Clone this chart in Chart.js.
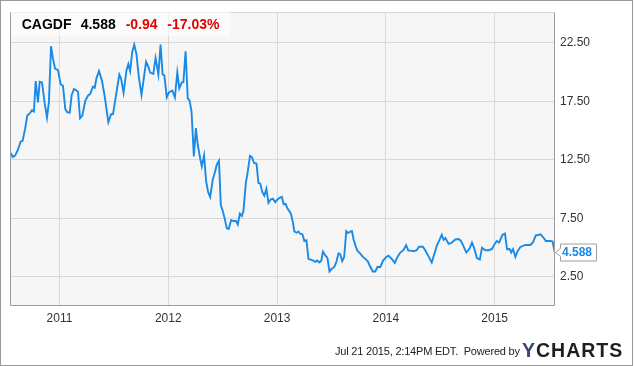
<!DOCTYPE html>
<html>
<head>
<meta charset="utf-8">
<title>CAGDF</title>
<script src="https://cdn.jsdelivr.net/npm/chart.js@4.4.0/dist/chart.umd.min.js"></script>
<style>
    html, body { margin: 0; padding: 0; background: #fff; }
    #wrap { position: relative; width: 635px; height: 366px; overflow: hidden;
            font-family: "Liberation Sans", Arial, sans-serif; }
    #chart { position: absolute; left: 0; top: 0; }
    #frame { position: absolute; left: 0; top: 0; width: 633px; height: 366px;
             box-sizing: border-box; border: 1px solid #9a9a9a; pointer-events: none; }
    #head { position: absolute; left: 11px; top: 11px; width: 219px; height: 25px;
            background: rgba(255, 255, 255, 0.6); }
    .h { position: absolute; top: 6px; font-weight: bold; font-size: 14px;
         line-height: 14px; white-space: nowrap; color: #000; }
    .red { color: #e50000; }
    #stamp { position: absolute; left: 335px; top: 346px; font-size: 11px; line-height: 11px;
             letter-spacing: -0.2px; color: #222; white-space: nowrap; }
    #logo { position: absolute; left: 522px; top: 340px; font-size: 19.5px; line-height: 20px;
            font-weight: bold; letter-spacing: 1px; color: #1e1e1e; white-space: nowrap; }
    #logo span { color: #34466c; }
</style>
</head>
<body>
<div id="wrap">
    <canvas id="chart" width="635" height="366"></canvas>
    <div id="head">
        <span class="h" style="left:10.7px">CAGDF</span>
        <span class="h" style="left:69.7px">4.588</span>
        <span class="h red" style="left:114.7px">-0.94</span>
        <span class="h red" style="left:156.3px">-17.03%</span>
    </div>
    <div id="stamp">Jul 21 2015, 2:14PM EDT.&nbsp; Powered by</div>
    <div id="logo"><span>Y</span>CHARTS</div>
    <div id="frame"></div>
</div>
<script>
// CAGDF weekly-ish closes
// dates are decimal years (2011.0 = Jan 1 2011)
const years = [
    2010.551, 2010.572, 2010.593, 2010.618, 2010.643, 2010.661, 2010.685, 2010.704, 2010.726, 2010.747,
    2010.765, 2010.781, 2010.802, 2010.818, 2010.839, 2010.864, 2010.885, 2010.903, 2010.922, 2010.940,
    2010.959, 2010.986, 2011.011, 2011.032, 2011.053, 2011.072, 2011.094, 2011.112, 2011.133, 2011.152,
    2011.170, 2011.189, 2011.210, 2011.237, 2011.262, 2011.283, 2011.308, 2011.324, 2011.339, 2011.363,
    2011.391, 2011.416, 2011.449, 2011.474, 2011.492, 2011.550, 2011.566, 2011.589, 2011.616, 2011.633,
    2011.649, 2011.669, 2011.687, 2011.707, 2011.730, 2011.754, 2011.796, 2011.817, 2011.833, 2011.863,
    2011.883, 2011.909, 2011.929, 2011.948, 2011.964, 2011.986, 2012.006, 2012.037, 2012.061, 2012.083,
    2012.101, 2012.124, 2012.139, 2012.159, 2012.179, 2012.196, 2012.214, 2012.235, 2012.254, 2012.271,
    2012.293, 2012.308, 2012.329, 2012.348, 2012.366, 2012.385, 2012.409, 2012.431, 2012.446, 2012.466,
    2012.483, 2012.501, 2012.520, 2012.538, 2012.555, 2012.578, 2012.599, 2012.624, 2012.639, 2012.658,
    2012.676, 2012.691, 2012.713, 2012.731, 2012.751, 2012.769, 2012.788, 2012.811, 2012.829, 2012.846,
    2012.865, 2012.883, 2012.902, 2012.921, 2012.941, 2012.961, 2012.983, 2013.004, 2013.024, 2013.044,
    2013.061, 2013.079, 2013.096, 2013.116, 2013.128, 2013.145, 2013.159, 2013.180, 2013.197, 2013.213,
    2013.234, 2013.251, 2013.270, 2013.289, 2013.309, 2013.332, 2013.351, 2013.369, 2013.387, 2013.406,
    2013.422, 2013.443, 2013.463, 2013.482, 2013.502, 2013.525, 2013.544, 2013.565, 2013.581, 2013.599,
    2013.617, 2013.636, 2013.654, 2013.673, 2013.688, 2013.703, 2013.723, 2013.740, 2013.765, 2013.789,
    2013.811, 2013.834, 2013.859, 2013.880, 2013.903, 2013.924, 2013.949, 2013.973, 2014.004, 2014.025,
    2014.056, 2014.082, 2014.102, 2014.133, 2014.163, 2014.186, 2014.206, 2014.229, 2014.255, 2014.283,
    2014.305, 2014.341, 2014.363, 2014.390, 2014.422, 2014.445, 2014.468, 2014.491, 2014.514, 2014.531,
    2014.548, 2014.577, 2014.602, 2014.639, 2014.669, 2014.689, 2014.709, 2014.740, 2014.770, 2014.792,
    2014.813, 2014.836, 2014.864, 2014.884, 2014.915, 2014.945, 2014.976, 2015.000, 2015.020, 2015.041,
    2015.071, 2015.095, 2015.114, 2015.138, 2015.152, 2015.169, 2015.191, 2015.212, 2015.237, 2015.283,
    2015.329, 2015.352, 2015.379, 2015.400, 2015.423, 2015.445, 2015.471, 2015.517, 2015.533, 2015.553
];

const prices = [
    13.08, 12.74, 12.88, 13.37, 14.07, 14.13, 15.21, 16.29, 16.48, 16.74,
    16.63, 19.24, 17.42, 19.18, 19.12, 17.33, 16.12, 17.48, 22.22, 21.16,
    20.31, 20.18, 18.95, 18.84, 16.86, 16.57, 16.54, 18.05, 18.56, 18.47,
    18.33, 16.06, 16.29, 17.54, 17.99, 18.16, 18.76, 18.67, 19.46, 20.09,
    19.24, 17.90, 15.72, 16.40, 16.41, 19.80, 19.46, 18.24, 20.16, 20.69,
    20.09, 21.73, 22.36, 21.56, 19.52, 18.05, 20.88, 20.46, 19.97, 19.86,
    21.22, 19.80, 22.36, 19.80, 19.72, 17.86, 18.26, 18.43, 17.84, 19.97,
    18.61, 19.11, 19.16, 21.79, 17.76, 17.56, 16.63, 12.80, 15.21, 13.79,
    12.63, 11.95, 12.88, 10.67, 9.76, 9.33, 10.81, 11.52, 12.09, 12.43,
    8.63, 8.12, 7.41, 6.64, 6.58, 7.35, 7.27, 7.27, 6.97, 7.89,
    7.69, 8.12, 10.52, 11.52, 12.84, 12.74, 12.23, 12.18, 10.52, 10.46,
    9.73, 9.42, 10.03, 8.82, 9.11, 9.18, 8.88, 9.11, 9.25, 9.33,
    8.69, 8.74, 8.33, 8.07, 7.89, 7.18, 6.39, 6.27, 6.37, 6.18,
    6.12, 5.56, 5.62, 4.01, 3.96, 3.89, 3.78, 3.89, 3.73, 3.86,
    4.65, 4.33, 4.12, 2.95, 3.18, 3.32, 3.72, 4.50, 4.43, 3.84,
    4.20, 6.41, 6.24, 6.37, 6.41, 5.71, 5.10, 4.71, 4.48, 4.20,
    4.03, 3.82, 3.31, 2.95, 2.95, 3.35, 3.32, 3.86, 4.20, 4.31,
    4.01, 3.69, 4.12, 4.57, 4.80, 5.20, 4.75, 4.74, 4.69, 4.77,
    5.07, 5.07, 4.74, 4.29, 3.72, 4.43, 5.14, 5.62, 6.10, 5.67,
    5.82, 5.31, 5.39, 5.69, 5.73, 5.59, 5.20, 4.57, 4.91, 5.42,
    4.92, 4.12, 3.97, 4.99, 4.77, 4.77, 4.88, 5.31, 5.56, 5.42,
    6.07, 6.20, 4.86, 4.88, 4.57, 4.86, 4.20, 4.71, 5.05, 5.22,
    5.22, 5.44, 6.05, 6.07, 6.13, 5.90, 5.56, 5.56, 5.52, 4.588
];

const yearTicks  = [2011, 2012, 2013, 2014, 2015];
const priceTicks = [2.5, 7.5, 12.5, 17.5, 22.5];
const lastPrice  = 4.588;

const LINE_COLOR = "#1a8ae6";
const GRID_COLOR = "#d9d9d9";
const FONT = '"Liberation Sans", Arial, sans-serif';

Chart.defaults.font.family = FONT;

// plot background + frame
const plotFrame = {
    id: "plotFrame",
    beforeDraw(chart) {
        const a = chart.chartArea, c = chart.ctx;
        c.save();
        c.fillStyle = "#f6f6f6";
        c.fillRect(a.left, a.top, a.right - a.left, a.bottom - a.top);
        c.restore();
    },
    afterDatasetsDraw(chart) {
        const a = chart.chartArea, c = chart.ctx;
        const l = Math.round(a.left) + 0.5, r = Math.round(a.right) - 0.5;
        const t = Math.round(a.top) + 0.5, b = Math.round(a.bottom) - 0.5;
        c.save();
        c.lineWidth = 1;
        c.strokeStyle = GRID_COLOR;
        c.beginPath(); c.moveTo(l, t); c.lineTo(r, t); c.stroke();
        c.strokeStyle = "#9c9c9c";
        c.beginPath(); c.moveTo(l, t); c.lineTo(l, b); c.lineTo(r, b); c.lineTo(r, t); c.stroke();
        c.restore();
    }
};

// last price tag on the right axis
const priceTag = {
    id: "priceTag",
    afterDraw(chart) {
        const c = chart.ctx;
        const y = Math.round(chart.scales.y.getPixelForValue(lastPrice)) + 0.5;
        const x0 = 560.5, x1 = 596.5, h = 8.5;
        c.save();
        c.beginPath();
        c.moveTo(x0, y - h);
        c.lineTo(x1, y - h);
        c.lineTo(x1, y + h);
        c.lineTo(x0, y + h);
        c.lineTo(x0, y + 4);
        c.lineTo(x0 - 5, y);
        c.lineTo(x0, y - 4);
        c.closePath();
        c.fillStyle = "#fff";
        c.fill();
        c.strokeStyle = "#a0a0a0";
        c.lineWidth = 1;
        c.stroke();
        c.fillStyle = LINE_COLOR;
        c.font = "bold 12px " + FONT;
        c.textBaseline = "middle";
        c.textAlign = "left";
        c.fillText(lastPrice.toFixed(3), 562, y + 0.5);
        c.restore();
    }
};

new Chart(document.getElementById("chart"), {
    type: "line",
    data: {
        datasets: [{
            data: years.map((t, i) => ({ x: t, y: prices[i] })),
            borderColor: LINE_COLOR,
            borderWidth: 1.9,
            pointRadius: 0,
            tension: 0,
            fill: false
        }]
    },
    options: {
        responsive: false,
        animation: false,
        events: [],
        layout: { padding: { left: 10, top: 10, right: 0, bottom: 0 } },
        plugins: { legend: { display: false }, tooltip: { enabled: false } },
        scales: {
            x: {
                type: "linear",
                min: 2010.545,
                max: 2015.555,
                afterBuildTicks: (axis) => { axis.ticks = yearTicks.map((v) => ({ value: v })); },
                afterFit: (axis) => { axis.height = 60; },
                ticks: {
                    callback: (v) => String(v),
                    color: "#333",
                    font: { size: 12 },
                    padding: 5,
                    maxRotation: 0,
                    autoSkip: false
                },
                grid: { color: GRID_COLOR, drawTicks: false },
                border: { display: false }
            },
            y: {
                position: "right",
                min: 0,
                max: 25.13,
                afterBuildTicks: (axis) => { axis.ticks = priceTicks.map((v) => ({ value: v })); },
                afterFit: (axis) => { axis.width = 80; },
                ticks: {
                    callback: (v) => v.toFixed(2),
                    color: "#333",
                    font: { size: 12 },
                    padding: 5
                },
                grid: { color: GRID_COLOR, drawTicks: false },
                border: { display: false }
            }
        }
    },
    plugins: [plotFrame, priceTag]
});
</script>
</body>
</html>
